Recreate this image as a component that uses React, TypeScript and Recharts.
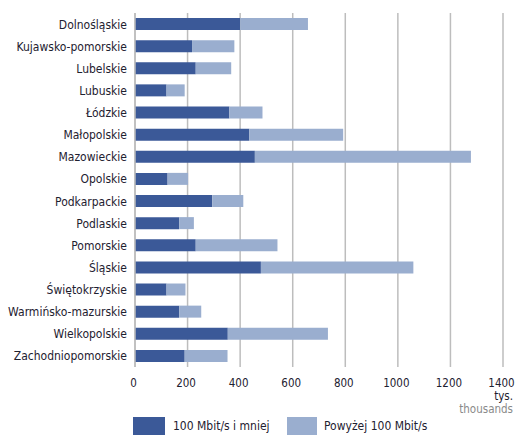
import React from 'react';
import { BarChart, Bar, XAxis, YAxis, CartesianGrid } from 'recharts';

const regions = [
  'Dolnośląskie',
  'Kujawsko-pomorskie',
  'Lubelskie',
  'Lubuskie',
  'Łódzkie',
  'Małopolskie',
  'Mazowieckie',
  'Opolskie',
  'Podkarpackie',
  'Podlaskie',
  'Pomorskie',
  'Śląskie',
  'Świętokrzyskie',
  'Warmińsko-mazurskie',
  'Wielkopolskie',
  'Zachodniopomorskie',
];

// thousands of connections
const upTo100 = [400, 217, 231, 120, 359, 435, 456, 124, 294, 168, 231, 479, 120, 168, 353, 189];
const over100 = [258, 161, 135, 69, 126, 357, 822, 78, 118, 56, 311, 580, 72, 84, 381, 163];

const xTicks = [0, 200, 400, 600, 800, 1000, 1200, 1400];

const COLORS = {
  dark: '#3b5998',
  light: '#9aaecf',
  grid: '#bdbdbd',
  text: '#1e2130',
};

const FONT = "'DejaVu Sans Condensed', 'Liberation Sans Narrow', sans-serif";

const data = regions.map((name, i) => ({
  name,
  low: upTo100[i],
  high: over100[i],
}));

const XTick = (props: any) => {
  const { x, payload } = props;
  return (
    <text x={x - 1.5} y={387} textAnchor="middle" fontSize={11.5} fontFamily={FONT} fontStretch="condensed" fill={COLORS.text}>
      {payload.value}
    </text>
  );
};

const YTick = (props: any) => {
  const { x, y, payload } = props;
  return (
    <text x={x} y={y + 4.5} textAnchor="end" fontSize={12} fontFamily={FONT} fontStretch="condensed" fill={COLORS.text}>
      {payload.value}
    </text>
  );
};

export default function App() {
  return (
    <div style={{ position: 'relative', width: 516, height: 435, background: '#fff', overflow: 'hidden' }}>
      <style>{'body { margin: 0; }'}</style>
      <BarChart
        width={516}
        height={435}
        data={data}
        layout="vertical"
        margin={{ top: 13, right: 13, bottom: 38, left: 0 }}
        barSize={12}
      >
        <CartesianGrid horizontal={false} stroke={COLORS.grid} strokeWidth={1.5} />
        <XAxis
          type="number"
          domain={[0, 1400]}
          ticks={xTicks}
          axisLine={false}
          tickLine={false}
          tick={<XTick />}
          interval={0}
        />
        <YAxis
          type="category"
          dataKey="name"
          width={135}
          axisLine={{ stroke: COLORS.grid, strokeWidth: 1.5 }}
          tickLine={false}
          tick={<YTick />}
          interval={0}
        />
        <Bar dataKey="low" stackId="a" fill={COLORS.dark} isAnimationActive={false} />
        <Bar dataKey="high" stackId="a" fill={COLORS.light} isAnimationActive={false} />
      </BarChart>
      <div
        style={{
          position: 'absolute',
          right: 3,
          top: 390,
          textAlign: 'right',
          fontFamily: FONT,
          fontStretch: 'condensed',
          fontSize: 11.5,
          lineHeight: '13px',
        }}
      >
        <div style={{ color: COLORS.text }}>tys.</div>
        <div style={{ color: '#8a8a8a' }}>thousands</div>
      </div>
      <div style={{ position: 'absolute', left: 0, top: 417, width: 516, height: 18, fontFamily: FONT, fontStretch: 'condensed', fontSize: 12, color: COLORS.text }}>
        <div style={{ position: 'absolute', left: 133, top: 0, width: 32, height: 18, background: COLORS.dark }} />
        <span style={{ position: 'absolute', left: 173, top: 2 }}>100 Mbit/s i mniej</span>
        <div style={{ position: 'absolute', left: 287, top: 0, width: 30, height: 18, background: COLORS.light }} />
        <span style={{ position: 'absolute', left: 324, top: 2 }}>Powyżej 100 Mbit/s</span>
      </div>
    </div>
  );
}
